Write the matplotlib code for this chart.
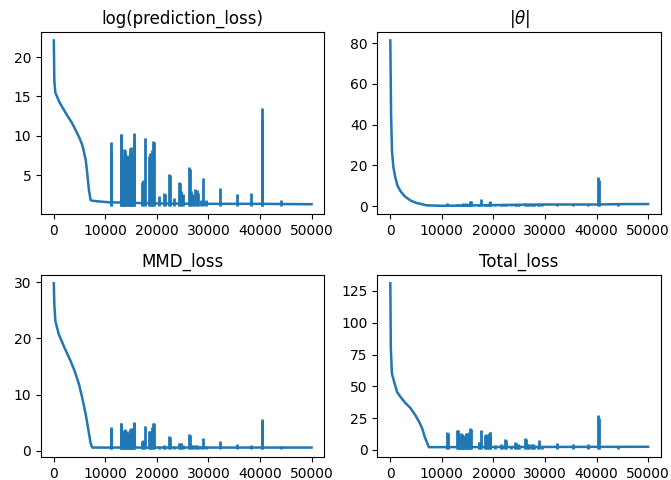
import matplotlib
matplotlib.use("Agg")
import matplotlib.pyplot as plt

# ---- base curves (iteration, value) ----
pred_iters = [0, 100, 300, 1000, 1600, 2500, 3570, 4870, 5500, 5840, 6200, 6500, 6820, 7140, 7400, 8770, 10700, 20000, 30000, 40000, 50000]
pred_vals = [22.1, 17.0, 15.5, 14.4, 13.7, 12.7, 11.6, 9.9, 8.9, 8.0, 6.9, 5.2, 3.1, 1.9, 1.8, 1.7, 1.6, 1.45, 1.4, 1.4, 1.35]

theta_iters = [0, 150, 320, 600, 970, 1400, 1950, 2800, 3900, 5000, 5840, 7000, 10000, 15000, 20000, 25000, 30000, 35000, 40000, 45000, 50000]
theta_vals = [81.3, 45.0, 27.0, 19.0, 14.0, 10.0, 7.4, 4.8, 2.8, 1.6, 1.1, 0.4, 0.15, 0.3, 0.5, 0.7, 0.8, 0.8, 0.8, 1.0, 1.0]

mmd_iters = [0, 100, 300, 975, 2000, 3250, 4000, 4870, 5500, 6170, 6700, 7150, 7470, 50000]
mmd_vals = [29.8, 26.0, 23.1, 20.7, 18.5, 16.0, 14.3, 11.9, 9.5, 6.6, 3.8, 1.3, 0.6, 0.6]

total_iters = [0, 100, 310, 640, 1300, 1950, 2900, 3900, 4900, 5600, 6170, 6700, 7470, 20000, 50000]
total_vals = [131.0, 80.0, 60.0, 55.0, 45.7, 41.8, 37.0, 33.0, 27.0, 22.0, 17.0, 10.0, 2.2, 2.3, 2.5]

# ---- spikes (shared iterations, per-curve peak values) ----
spike_iters = [11000, 11150, 12950, 13100, 13250, 13400, 13550, 13700, 13850, 14000, 14150, 14300,
               14450, 14600, 14750, 14900, 15050, 15200, 15350, 15500, 15650, 17150, 17300, 17650,
               18450, 18650, 18850, 19050, 19250, 19400, 20350, 21450, 21650, 22300, 22450, 23400,
               24250, 24450, 24700, 25000, 26150, 26350, 26650, 27000, 27400, 27700, 27950, 28600,
               28900, 29500, 32280, 35520, 38320, 40300, 40400, 44160]

pred_peaks = [9.2, 8.0, 10.3, 10.2, 6.8, 7.2, 6.5, 8.3, 8.2, 7.0, 7.6, 7.4,
              6.0, 5.6, 8.5, 8.6, 7.0, 6.2, 8.0, 10.4, 9.5, 4.2, 4.4, 9.8,
              7.5, 7.8, 7.6, 8.2, 9.3, 9.2, 2.4, 2.8, 2.6, 5.2, 5.0, 2.1,
              4.2, 4.0, 3.0, 2.6, 6.1, 5.8, 3.0, 2.6, 3.3, 3.1, 2.8, 1.9,
              4.7, 1.9, 3.4, 2.6, 2.8, 13.6, 12.0, 1.9]

theta_peaks = [1.3, 0.8, 1.2, 0.9, 0.6, 0.7, 0.6, 1.2, 0.8, 0.6, 1.3, 0.7,
               0.6, 0.6, 1.4, 1.1, 0.7, 0.7, 1.2, 2.4, 2.7, 0.8, 0.8, 3.6,
               1.0, 1.1, 1.1, 1.5, 2.4, 2.0, 1.1, 1.2, 1.0, 1.2, 1.2, 1.0,
               1.2, 1.1, 1.2, 1.1, 1.3, 1.2, 1.1, 1.2, 1.2, 1.2, 1.1, 1.2,
               1.2, 1.1, 1.2, 1.2, 1.2, 14.5, 13.0, 1.2]

mmd_peaks = [4.3, 3.9, 5.0, 5.0, 3.2, 3.5, 3.3, 3.8, 3.9, 3.4, 3.6, 3.2,
             2.6, 2.8, 3.9, 4.0, 3.3, 3.0, 4.0, 5.1, 5.0, 1.8, 1.9, 4.4,
             3.5, 3.6, 3.5, 4.2, 5.0, 4.9, 0.9, 1.0, 0.9, 2.6, 2.5, 0.8,
             1.5, 1.5, 1.4, 1.0, 3.0, 2.8, 1.1, 1.0, 1.1, 1.0, 0.9, 0.8,
             2.3, 0.8, 1.7, 1.3, 1.0, 5.6, 5.3, 0.8]

total_peaks = [14, 13, 16, 16, 11, 12, 11, 13, 12.5, 10, 12, 11,
               9, 9, 13, 13.5, 11, 10, 14, 17, 16.5, 6, 6.5, 15.5,
               12, 12.5, 12, 13.5, 14.5, 14, 4, 4.5, 4, 8.5, 8, 3.5,
               6, 5.5, 5, 4, 9.5, 9, 5, 4.5, 5, 4.8, 4, 3.5,
               7.5, 3.5, 5.5, 4.5, 4.5, 27.5, 25, 3]

spike_floor = {"pred": 1.15, "theta": 0.2, "mmd": 0.4, "total": 1.0}

titles = ["log(prediction_loss)", r"$|\theta|$", "MMD_loss", "Total_loss"]

color = "#1f77b4"

fig, axes = plt.subplots(2, 2, figsize=(6.71, 4.8), dpi=100)
fig.subplots_adjust(left=0.061, right=0.985, top=0.933, bottom=0.048,
                    wspace=0.187, hspace=0.335)

series = [
    (pred_iters, pred_vals, pred_peaks, spike_floor["pred"]),
    (theta_iters, theta_vals, theta_peaks, spike_floor["theta"]),
    (mmd_iters, mmd_vals, mmd_peaks, spike_floor["mmd"]),
    (total_iters, total_vals, total_peaks, spike_floor["total"]),
]

for ax, (xs, ys, peaks, floor), title in zip(axes.flat, series, titles):
    ax.plot(xs, ys, color=color, lw=1.8)
    ax.vlines(spike_iters, floor, peaks, color=color, lw=2.0)
    ax.set_title(title, fontsize=12)
    ax.set_xticks([0, 10000, 20000, 30000, 40000, 50000])
    ax.tick_params(labelsize=10)

axes[0, 0].set_yticks([5, 10, 15, 20])
axes[0, 1].set_yticks([0, 20, 40, 60, 80])
axes[1, 0].set_yticks([0, 10, 20, 30])
axes[1, 1].set_yticks([0, 25, 50, 75, 100, 125])

fig.savefig("out.png", dpi=100)
